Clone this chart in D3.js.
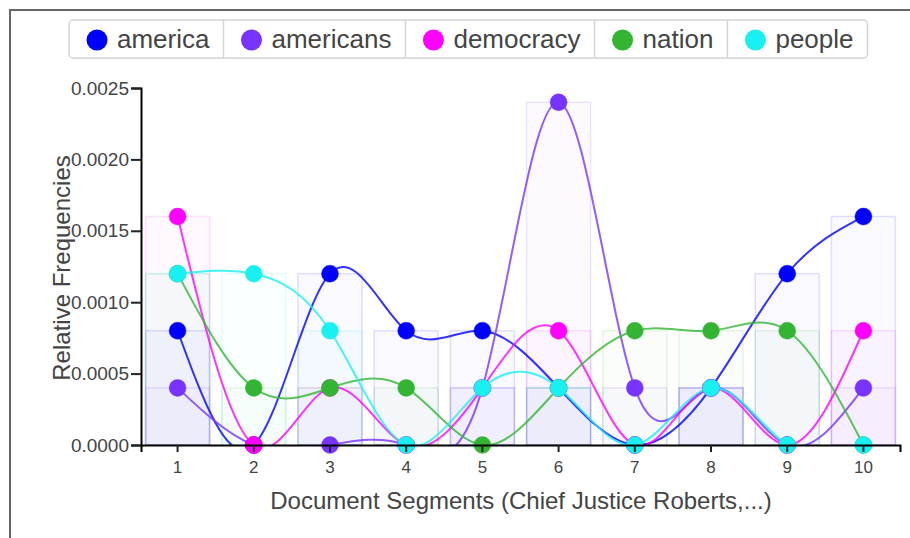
<!DOCTYPE html>
<html>
<head>
<meta charset="utf-8">
<script src="https://cdn.jsdelivr.net/npm/d3@7"></script>
<style>
  body { margin: 0; background: #fff; }
  text { font-family: "Liberation Sans", Arial, sans-serif; }
</style>
</head>
<body>
<div id="container"></div>
<script>
// 数据
var segments = [1, 2, 3, 4, 5, 6, 7, 8, 9, 10];
var terms = ["america", "americans", "democracy", "nation", "people"];
var colors = ["#0000ff", "#7733ff", "#ff00ff", "#33b533", "#19f0f0"];

var america   = [0.0008, 0, 0.0012, 0.0008, 0.0008, 0.0004, 0, 0.0004, 0.0012, 0.0016];
var americans = [0.0004, 0, 0, 0, 0.0004, 0.0024, 0.0004, 0.0004, 0, 0.0004];
var democracy = [0.0016, 0, 0.0004, 0, 0.0004, 0.0008, 0, 0.0004, 0, 0.0008];
var nation    = [0.0012, 0.0004, 0.0004, 0.0004, 0, 0.0004, 0.0008, 0.0008, 0.0008, 0];
var people    = [0.0012, 0.0012, 0.0008, 0, 0.0004, 0.0004, 0, 0.0004, 0, 0];

var yTicks = [0, 0.0005, 0.001, 0.0015, 0.002, 0.0025];

var seriesValues = [america, americans, democracy, nation, people];

// 画布
var W = 910, H = 538;
var MARGIN = { top: 88, right: 10, bottom: 93, left: 141 };
var WIDTH = W - MARGIN.left - MARGIN.right;
var HEIGHT = H - MARGIN.top - MARGIN.bottom;

var root = d3.select("#container")
  .append("svg")
  .attr("width", W)
  .attr("height", H);

// 外框 (左、上)
root.append("path")
  .attr("d", "M10," + H + " L10,10 L" + W + ",10")
  .attr("fill", "none")
  .attr("stroke", "#666")
  .attr("stroke-width", 2);

var svg = root.append("g")
  .attr("transform", "translate(" + MARGIN.left + "," + MARGIN.top + ")");

var xScale = d3.scaleBand()
  .domain(segments)
  .range([0, WIDTH])
  .paddingInner(0.16)
  .paddingOuter(0.06);

var yScale = d3.scaleLinear()
  .domain([0, 0.0025])
  .range([HEIGHT, 0]);

svg.append("clipPath").attr("id", "plot-clip")
  .append("rect")
  .attr("x", 0).attr("y", -20)
  .attr("width", WIDTH).attr("height", HEIGHT + 20);

var series = terms.map(function (t, i) {
  return {
    name: t,
    color: colors[i],
    values: segments.map(function (s, j) { return { seg: s, v: seriesValues[i][j] }; })
  };
});

// 背景柱子
series.forEach(function (s) {
  svg.append("g")
    .selectAll("rect")
    .data(s.values)
    .enter()
    .append("rect")
    .attr("x", function (d) { return xScale(d.seg); })
    .attr("y", function (d) { return yScale(d.v); })
    .attr("width", xScale.bandwidth())
    .attr("height", function (d) { return HEIGHT - yScale(d.v); })
    .attr("fill", s.color)
    .attr("fill-opacity", 0.025)
    .attr("stroke", s.color)
    .attr("stroke-opacity", 0.12)
    .attr("stroke-width", 1.5);
});

var cx = function (d) { return xScale(d.seg) + xScale.bandwidth() / 2; };

var line = d3.line()
  .x(cx)
  .y(function (d) { return yScale(d.v); })
  .curve(d3.curveNatural);

// 曲线和圆点
series.forEach(function (s) {
  var g = svg.append("g");
  g.append("path")
    .datum(s.values)
    .attr("clip-path", "url(#plot-clip)")
    .attr("d", line)
    .attr("fill", "none")
    .attr("stroke", s.color)
    .attr("stroke-opacity", 0.8)
    .attr("stroke-width", 2);
  g.selectAll("circle")
    .data(s.values)
    .enter()
    .append("circle")
    .attr("cx", cx)
    .attr("cy", function (d) { return yScale(d.v); })
    .attr("r", 8.5)
    .attr("fill", s.color)
    .attr("stroke", s.color)
    .attr("stroke-opacity", 0.4)
    .attr("stroke-width", 1);
});

// 坐标轴
var xAxis = d3.axisBottom(xScale).tickSizeOuter(0).tickSize(7);
var yAxis = d3.axisLeft(yScale).tickValues(yTicks).tickFormat(d3.format(".4f")).tickSizeOuter(0).tickSize(10);

var gx = svg.append("g")
  .attr("transform", "translate(0," + HEIGHT + ")")
  .call(xAxis);
gx.attr("font-family", null).attr("font-size", null);
gx.selectAll("text").style("font-size", "17px").attr("fill", "#444").attr("y", 16).attr("dy", "0.71em");
gx.select(".domain").attr("stroke", "#000").attr("stroke-width", 2);
gx.selectAll(".tick line").attr("stroke", "#222").attr("stroke-width", 2);

var gy = svg.append("g").call(yAxis);
gy.attr("font-family", null).attr("font-size", null);
gy.selectAll("text").style("font-size", "19px").attr("fill", "#444").attr("x", -12);
gy.select(".domain").attr("stroke", "#000").attr("stroke-width", 2);
gy.selectAll(".tick line").attr("stroke", "#222").attr("stroke-width", 2);

// 轴标题
svg.append("text")
  .attr("x", 521 - MARGIN.left)
  .attr("y", HEIGHT + 64)
  .attr("text-anchor", "middle")
  .attr("font-size", "24px")
  .attr("fill", "#444")
  .text("Document Segments (Chief Justice Roberts,...)");

svg.append("text")
  .attr("transform", "rotate(-90)")
  .attr("x", -(268 - MARGIN.top))
  .attr("y", -MARGIN.left + 70)
  .attr("text-anchor", "middle")
  .attr("font-size", "24px")
  .attr("fill", "#444")
  .text("Relative Frequencies");

// 图例
var legend = root.append("g").attr("transform", "translate(69,20)");
var LEG_H = 38;
var xpos = 0;
var seps = [];
series.forEach(function (s, i) {
  var item = legend.append("g").attr("transform", "translate(" + xpos + ",0)");
  item.append("circle")
    .attr("cx", 28).attr("cy", LEG_H / 2 + 1).attr("r", 10.5)
    .attr("fill", s.color);
  var t = item.append("text")
    .attr("x", 48).attr("y", LEG_H / 2 + 9)
    .attr("font-size", "26px")
    .attr("fill", "#444")
    .text(s.name);
  var w = 48 + t.node().getComputedTextLength() + 14;
  xpos += w;
  if (i < series.length - 1) seps.push(xpos);
});
legend.insert("rect", ":first-child")
  .attr("x", 0).attr("y", 0)
  .attr("width", xpos).attr("height", LEG_H)
  .attr("rx", 4)
  .attr("fill", "#fff")
  .attr("stroke", "#d4d4d4")
  .attr("stroke-width", 1.5);
seps.forEach(function (sx) {
  legend.append("line")
    .attr("x1", sx).attr("x2", sx)
    .attr("y1", 0).attr("y2", LEG_H)
    .attr("stroke", "#d4d4d4")
    .attr("stroke-width", 1.5);
});
</script>
</body>
</html>
